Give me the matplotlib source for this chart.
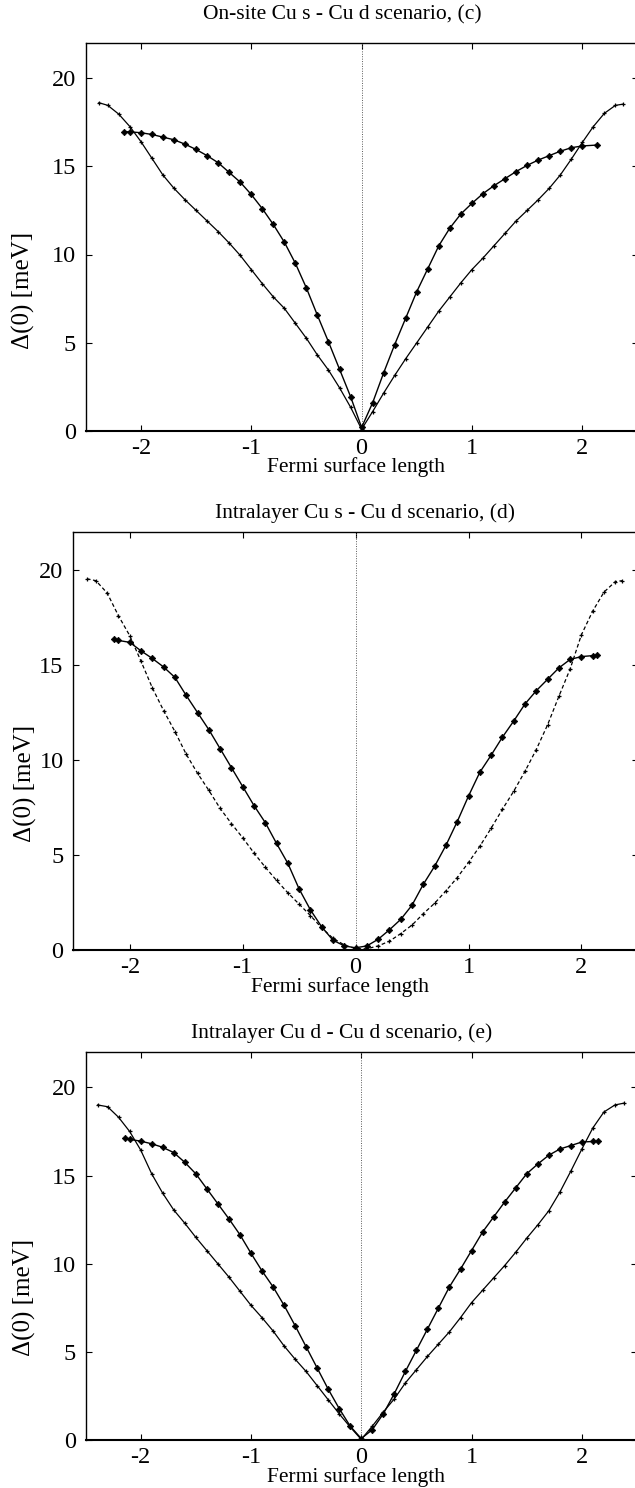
import matplotlib
matplotlib.use("Agg")
import matplotlib.pyplot as plt

plt.rcParams['font.family'] = ['Liberation Serif', 'DejaVu Serif']
plt.rcParams['axes.unicode_minus'] = False

# ---- panel (c): on-site Cu s - Cu d ----
xa_c = [-2.38, -2.3, -2.2, -2.1, -2.0, -1.9, -1.8, -1.7, -1.6, -1.5, -1.4, -1.3, -1.2,
        -1.1, -1.0, -0.9, -0.8, -0.7, -0.6, -0.5, -0.4, -0.3, -0.2, -0.1, 0.0,
        0.1, 0.2, 0.3, 0.4, 0.5, 0.6, 0.7, 0.8, 0.9, 1.0, 1.1, 1.2, 1.3, 1.4,
        1.5, 1.6, 1.7, 1.8, 1.9, 2.0, 2.1, 2.2, 2.3, 2.37]
ya_c = [18.6, 18.45, 17.95, 17.25, 16.4, 15.45, 14.5, 13.75, 13.1, 12.5, 11.9, 11.3, 10.65,
        9.95, 9.15, 8.35, 7.6, 6.95, 6.1, 5.25, 4.3, 3.45, 2.45, 1.35, 0.1,
        1.1, 2.15, 3.15, 4.1, 5.0, 5.9, 6.8, 7.6, 8.4, 9.15, 9.8, 10.5, 11.2, 11.9,
        12.5, 13.1, 13.75, 14.5, 15.4, 16.35, 17.25, 18.0, 18.45, 18.52]
xb_c = [-2.15, -2.1, -2.0, -1.9, -1.8, -1.7, -1.6, -1.5, -1.4, -1.3, -1.2, -1.1, -1.0,
        -0.9, -0.8, -0.7, -0.6, -0.5, -0.4, -0.3, -0.2, -0.1, 0.0,
        0.1, 0.2, 0.3, 0.4, 0.5, 0.6, 0.7, 0.8, 0.9, 1.0, 1.1, 1.2, 1.3, 1.4,
        1.5, 1.6, 1.7, 1.8, 1.9, 2.0, 2.13]
yb_c = [16.95, 16.95, 16.9, 16.8, 16.65, 16.5, 16.25, 15.95, 15.6, 15.2, 14.65, 14.1, 13.4,
        12.6, 11.7, 10.7, 9.5, 8.1, 6.55, 5.05, 3.5, 1.95, 0.2,
        1.6, 3.3, 4.9, 6.4, 7.9, 9.2, 10.5, 11.5, 12.3, 12.9, 13.45, 13.9, 14.3, 14.7,
        15.05, 15.35, 15.6, 15.85, 16.05, 16.15, 16.2]

# ---- panel (d): intralayer Cu s - Cu d ----
xa_d = [-2.38, -2.3, -2.2, -2.1, -2.0, -1.9, -1.8, -1.7, -1.6, -1.5, -1.4, -1.3, -1.2,
        -1.1, -1.0, -0.9, -0.8, -0.7, -0.6, -0.5, -0.4, -0.3, -0.2, -0.1, 0.0,
        0.1, 0.2, 0.3, 0.4, 0.5, 0.6, 0.7, 0.8, 0.9, 1.0, 1.1, 1.2, 1.3, 1.4,
        1.5, 1.6, 1.7, 1.8, 1.9, 2.0, 2.1, 2.2, 2.3, 2.36]
ya_d = [19.55, 19.45, 18.8, 17.6, 16.55, 15.2, 13.8, 12.6, 11.5, 10.3, 9.3, 8.4, 7.45,
        6.65, 5.9, 5.1, 4.35, 3.65, 3.0, 2.4, 1.8, 1.15, 0.6, 0.25, 0.05,
        0.05, 0.2, 0.45, 0.85, 1.3, 1.9, 2.45, 3.1, 3.8, 4.6, 5.45, 6.4, 7.4, 8.35,
        9.4, 10.55, 11.85, 13.35, 14.8, 16.6, 17.85, 18.85, 19.4, 19.45]
xb_d = [-2.14, -2.1, -2.0, -1.9, -1.8, -1.7, -1.6, -1.5, -1.4, -1.3, -1.2, -1.1, -1.0,
        -0.9, -0.8, -0.7, -0.6, -0.5, -0.4, -0.3, -0.2, -0.1, 0.0,
        0.1, 0.2, 0.3, 0.4, 0.5, 0.6, 0.7, 0.8, 0.9, 1.0, 1.1, 1.2, 1.3, 1.4,
        1.5, 1.6, 1.7, 1.8, 1.9, 2.0, 2.1, 2.14]
yb_d = [16.35, 16.3, 16.2, 15.75, 15.35, 14.9, 14.35, 13.4, 12.5, 11.6, 10.6, 9.6, 8.6,
        7.6, 6.7, 5.6, 4.55, 3.2, 2.1, 1.2, 0.5, 0.2, 0.1,
        0.2, 0.55, 1.05, 1.6, 2.35, 3.45, 4.4, 5.5, 6.75, 8.1, 9.35, 10.25, 11.2, 12.05,
        12.95, 13.65, 14.25, 14.85, 15.3, 15.45, 15.5, 15.52]

# ---- panel (e): intralayer Cu d - Cu d ----
xa_e = [-2.39, -2.3, -2.2, -2.1, -2.0, -1.9, -1.8, -1.7, -1.6, -1.5, -1.4, -1.3, -1.2,
        -1.1, -1.0, -0.9, -0.8, -0.7, -0.6, -0.5, -0.4, -0.3, -0.2, -0.1, 0.0,
        0.1, 0.2, 0.3, 0.4, 0.5, 0.6, 0.7, 0.8, 0.9, 1.0, 1.1, 1.2, 1.3, 1.4,
        1.5, 1.6, 1.7, 1.8, 1.9, 2.0, 2.1, 2.2, 2.3, 2.38]
ya_e = [19.0, 18.9, 18.3, 17.5, 16.45, 15.1, 14.0, 13.05, 12.3, 11.5, 10.75, 10.0, 9.25,
        8.45, 7.65, 6.95, 6.2, 5.35, 4.6, 3.9, 3.1, 2.3, 1.5, 0.75, 0.05,
        0.8, 1.6, 2.35, 3.25, 4.0, 4.75, 5.45, 6.15, 6.95, 7.8, 8.5, 9.2, 9.9, 10.65,
        11.45, 12.2, 13.0, 14.05, 15.25, 16.5, 17.7, 18.6, 19.0, 19.1]
xb_e = [-2.14, -2.1, -2.0, -1.9, -1.8, -1.7, -1.6, -1.5, -1.4, -1.3, -1.2, -1.1, -1.0,
        -0.9, -0.8, -0.7, -0.6, -0.5, -0.4, -0.3, -0.2, -0.1, 0.0,
        0.1, 0.2, 0.3, 0.4, 0.5, 0.6, 0.7, 0.8, 0.9, 1.0, 1.1, 1.2, 1.3, 1.4,
        1.5, 1.6, 1.7, 1.8, 1.9, 2.0, 2.1, 2.15]
yb_e = [17.1, 17.05, 16.95, 16.8, 16.6, 16.3, 15.75, 15.1, 14.25, 13.4, 12.55, 11.65, 10.6,
        9.6, 8.7, 7.65, 6.5, 5.3, 4.1, 2.9, 1.8, 0.8, 0.1,
        0.6, 1.5, 2.65, 3.9, 5.1, 6.3, 7.5, 8.7, 9.7, 10.75, 11.8, 12.65, 13.5, 14.3,
        15.1, 15.65, 16.15, 16.5, 16.7, 16.9, 16.93, 16.95]

titles = ["On-site Cu s - Cu d scenario, (c)",
          "Intralayer Cu s - Cu d scenario, (d)",
          "Intralayer Cu d - Cu d scenario, (e)"]
xticks = [-2, -1, 0, 1, 2]
yticks = [0, 5, 10, 15, 20]

W, H = 635, 1488
fig = plt.figure(figsize=(W / 100, H / 100), dpi=100)

# axes boxes in pixels: left, right, top, bottom
boxes = [(85.7, 637.5, 42.7, 431.0),
         (73.3, 637.9, 532.3, 949.7),
         (85.5, 637.0, 1052.0, 1440.3)]
title_pos = [(0.4645, 1.072), (0.5175, 1.046), (0.465, 1.049)]
xlabel_pos = [(0.4906, -0.093), (0.472, -0.089), (0.4906, -0.094)]
ylabel_pos = [(-0.112, 0.363), (-0.0855, 0.398), (-0.1115, 0.368)]

data = [(xa_c, ya_c, xb_c, yb_c, '-'),
        (xa_d, ya_d, xb_d, yb_d, (0, (3, 2))),
        (xa_e, ya_e, xb_e, yb_e, '-')]

for i, (l, r, t, b) in enumerate(boxes):
    ax = fig.add_axes([l / W, 1 - b / H, (r - l) / W, (b - t) / H])
    xa, ya, xb, yb, ls_a = data[i]

    ax.plot([0, 0], [0, 22], color='0.35', lw=0.7, ls=(0, (1, 1.5)))
    ax.plot(xa, ya, color='black', lw=0.9, ls=ls_a, marker='+', ms=3.5, mew=0.9)
    ax.plot(xb, yb, color='black', lw=1.0, marker='D', ms=3.3, mew=0.5)

    ax.set_xlim(-2.5, 2.5)
    ax.set_ylim(0, 22)
    ax.set_xticks(xticks)
    ax.set_yticks(yticks)
    ax.tick_params(direction='in', top=True, right=True, length=4.5, width=0.8,
                   labelsize=17.5)
    ax.tick_params(axis='y', pad=7)
    ax.tick_params(axis='x', pad=5)
    for s in ax.spines.values():
        s.set_linewidth(1.0)
    ax.spines['bottom'].set_linewidth(1.5)

    ax.text(title_pos[i][0], title_pos[i][1], titles[i], transform=ax.transAxes,
            ha='center', va='center', fontsize=15.5)
    ax.text(xlabel_pos[i][0], xlabel_pos[i][1], "Fermi surface length",
            transform=ax.transAxes, ha='center', va='center', fontsize=15.5)
    ax.text(ylabel_pos[i][0], ylabel_pos[i][1], "Δ(0) [meV]", transform=ax.transAxes,
            ha='center', va='center', rotation=90, fontsize=18)

fig.savefig("out.png", dpi=100)
